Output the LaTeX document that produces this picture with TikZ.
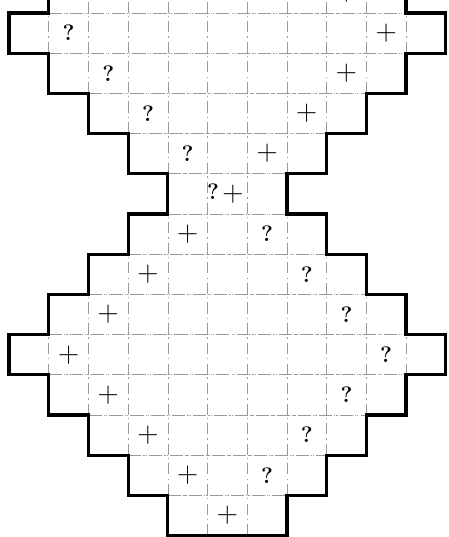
\documentclass[tikz,border=0pt]{standalone}
\usepackage{fontspec}

\begin{document}
\begin{tikzpicture}[
  x=1cm, y=1.0126cm,
  cell/.style={
    draw=black!40,
    line width=0.45pt,
    dash pattern=on 8pt off 3pt on 1pt off 3pt
  },
  rim/.style={
    draw=black,
    line width=2.3pt,
    line join=miter
  },
  qmark/.style={inner sep=0pt, font=\fontsize{16}{18}\selectfont\bfseries},
  pmark/.style={inner sep=0pt, font=\fontsize{21}{24}\selectfont}
]

\useasboundingbox (-0.227,-13.035) rectangle (11.058,0.323);
\clip (-0.227,-13.035) rectangle (11.058,0.323);

% thin cell lines, row by row
\draw[cell, step=1] (1,0) grid (10,1);
\draw[cell, step=1] (0,-1) grid (11,0);
\draw[cell, step=1] (1,-2) grid (10,-1);
\draw[cell, step=1] (2,-3) grid (9,-2);
\draw[cell, step=1] (3,-4) grid (8,-3);
\draw[cell, step=1] (4,-5) grid (7,-4);
\draw[cell, step=1] (3,-6) grid (8,-5);
\draw[cell, step=1] (2,-7) grid (9,-6);
\draw[cell, step=1] (1,-8) grid (10,-7);
\draw[cell, step=1] (0,-9) grid (11,-8);
\draw[cell, step=1] (1,-10) grid (10,-9);
\draw[cell, step=1] (2,-11) grid (9,-10);
\draw[cell, step=1] (3,-12) grid (8,-11);
\draw[cell, step=1] (4,-13) grid (7,-12);

% stepped outline
\draw[rim] (1,1) -- (1,0) -- (0,0) -- (0,-1) -- (1,-1) -- (1,-2) -- (2,-2)
  -- (2,-3) -- (3,-3) -- (3,-4) -- (4,-4) -- (4,-5) -- (3,-5) -- (3,-6)
  -- (2,-6) -- (2,-7) -- (1,-7) -- (1,-8) -- (0,-8) -- (0,-9) -- (1,-9)
  -- (1,-10) -- (2,-10) -- (2,-11) -- (3,-11) -- (3,-12) -- (4,-12)
  -- (4,-13) -- (7,-13) -- (7,-12) -- (8,-12) -- (8,-11) -- (9,-11)
  -- (9,-10) -- (10,-10) -- (10,-9) -- (11,-9) -- (11,-8) -- (10,-8)
  -- (10,-7) -- (9,-7) -- (9,-6) -- (8,-6) -- (8,-5) -- (7,-5) -- (7,-4)
  -- (8,-4) -- (8,-3) -- (9,-3) -- (9,-2) -- (10,-2) -- (10,-1) -- (11,-1)
  -- (11,0) -- (10,0) -- (10,1);

% marks, upper half
\node[pmark] (p0) at (8.5,0.5) {+};
\node[qmark] (q1) at (1.5,-0.5) {?};
\node[pmark] (p1) at (9.5,-0.5) {+};
\node[qmark] (q2) at (2.5,-1.5) {?};
\node[pmark] (p2) at (8.5,-1.5) {+};
\node[qmark] (q3) at (3.5,-2.5) {?};
\node[pmark] (p3) at (7.5,-2.5) {+};
\node[qmark] (q4) at (4.5,-3.5) {?};
\node[pmark] (p4) at (6.5,-3.5) {+};
\node[qmark] (q5) at (5.14,-4.45) {?};
\node[pmark] (p5) at (5.64,-4.5) {+};

% marks, lower half
\node[pmark] (p6) at (4.5,-5.5) {+};
\node[qmark] (q6) at (6.5,-5.5) {?};
\node[pmark] (p7) at (3.5,-6.5) {+};
\node[qmark] (q7) at (7.5,-6.5) {?};
\node[pmark] (p8) at (2.5,-7.5) {+};
\node[qmark] (q8) at (8.5,-7.5) {?};
\node[pmark] (p9) at (1.5,-8.5) {+};
\node[qmark] (q9) at (9.5,-8.5) {?};
\node[pmark] (p10) at (2.5,-9.5) {+};
\node[qmark] (q10) at (8.5,-9.5) {?};
\node[pmark] (p11) at (3.5,-10.5) {+};
\node[qmark] (q11) at (7.5,-10.5) {?};
\node[pmark] (p12) at (4.5,-11.5) {+};
\node[qmark] (q12) at (6.5,-11.5) {?};
\node[pmark] (p13) at (5.5,-12.5) {+};

\end{tikzpicture}
\end{document}
